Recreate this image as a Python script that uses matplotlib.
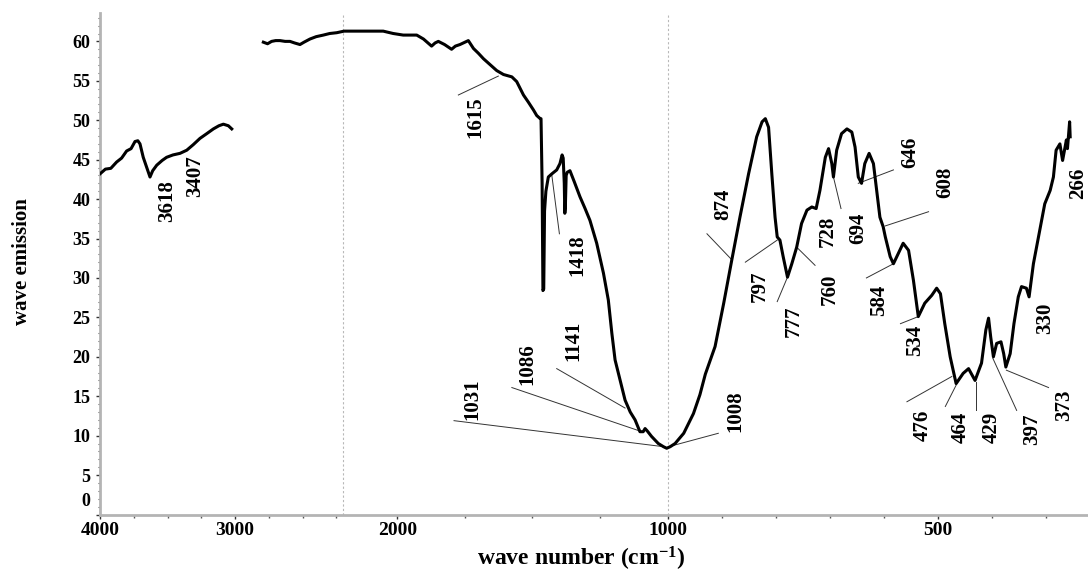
"""IR スペクトル (4000-222 cm-1, 2200 と 1000 で目盛り倍率が変わる折れ線軸)。"""
import numpy as np
import matplotlib
matplotlib.use("Agg")
import matplotlib.pyplot as plt
from matplotlib.ticker import FixedLocator, MultipleLocator, FuncFormatter

plt.rcParams["font.family"] = ["Liberation Serif", "DejaVu Serif"]
plt.rcParams["font.weight"] = "bold"
plt.rcParams["mathtext.default"] = "regular"

# ---- data ------------------------------------------------------------------
# 高波数側 (4000-3025 cm-1)
wn_hi = [4000, 3960, 3920, 3877, 3840, 3803, 3770, 3741, 3720, 3704, 3680,
         3650, 3630, 3610, 3580, 3540, 3507, 3460, 3408, 3358, 3310, 3260,
         3210, 3161, 3120, 3087, 3050, 3025]
em_hi = [43.2, 43.8, 43.9, 44.7, 45.2, 46.1, 46.4, 47.3, 47.4, 47.0, 45.3,
         43.8, 42.8, 43.6, 44.3, 44.9, 45.3, 45.6, 45.8, 46.2, 46.9, 47.7,
         48.3, 48.9, 49.3, 49.5, 49.3, 48.9]

# 低波数側 (2791-255 cm-1)
wn_lo = [2791, 2760, 2730, 2700, 2668, 2630, 2594, 2560, 2520, 2490, 2446,
         2400, 2347, 2300, 2248, 2197, 2150, 2100, 2052, 2015, 1978, 1950,
         1928, 1903, 1873, 1860, 1848, 1825, 1799, 1785, 1768, 1737, 1718,
         1700, 1681, 1655, 1632, 1607, 1576, 1558, 1545, 1533, 1515, 1496,
         1484, 1471, 1468, 1464, 1461, 1458, 1455, 1450, 1441, 1428, 1410,
         1398, 1390, 1386, 1382, 1380, 1378, 1375, 1371, 1361, 1345, 1324,
         1305, 1287, 1262, 1237, 1219, 1206, 1194, 1175, 1157, 1138, 1120,
         1102, 1090, 1083, 1075, 1059, 1034, 1015, 1003, 995, 986, 970,
         952, 940, 930, 912, 896, 881, 866, 850, 835, 825, 819,
         813, 807, 801, 797, 792, 786, 778, 770, 761, 752, 742,
         733, 725, 718, 708, 702, 696, 693, 687, 678, 668, 659,
         653, 647, 641, 635, 627, 619, 613, 607, 601, 597, 588,
         582, 573, 564, 554, 545, 536, 524, 511, 502, 495, 487,
         477, 466, 453, 443, 431, 419, 411, 406, 402, 397, 391,
         383, 378, 374, 366, 359, 351, 345, 336, 331, 323, 311,
         302, 292, 286, 281, 274, 269, 262, 260, 256, 255]
em_lo = [59.9, 59.7, 60.0, 60.1, 60.1, 60.0, 60.0, 59.8, 59.6, 59.9, 60.3,
         60.6, 60.8, 61.0, 61.1, 61.3, 61.3, 61.3, 61.3, 61.0, 60.8, 60.8,
         60.8, 60.3, 59.4, 59.8, 60.0, 59.6, 59.0, 59.4, 59.6, 60.1, 59.1,
         58.5, 57.8, 57.0, 56.3, 55.8, 55.5, 54.9, 54.0, 53.2, 52.3, 51.3,
         50.6, 50.2, 50.2, 42.0, 28.4, 28.6, 38.5, 41.0, 42.8, 43.2, 43.7,
         44.5, 45.6, 45.2, 42.0, 38.2, 39.0, 43.0, 43.4, 43.6, 42.2, 40.3,
         38.8, 37.3, 34.4, 30.6, 27.2, 23.0, 19.6, 17.0, 14.5, 13.0, 12.0,
         10.5, 10.5, 10.9, 10.6, 9.9, 9.0, 8.6, 8.4, 8.6, 9.0, 10.3,
         12.8, 15.2, 17.8, 21.3, 26.8, 32.3, 37.7, 43.2, 47.9, 49.8, 50.2,
         49.1, 43.2, 37.7, 35.2, 34.8, 32.7, 30.1, 31.8, 33.9, 36.9, 38.6,
         39.0, 38.8, 41.1, 45.3, 46.4, 44.5, 42.8, 46.2, 48.3, 48.9, 48.5,
         46.6, 42.8, 42.0, 44.5, 45.8, 44.5, 41.1, 37.7, 36.5, 35.2, 32.7,
         31.8, 33.1, 34.4, 33.5, 29.7, 25.1, 26.8, 27.8, 28.7, 28.0, 24.2,
         20.0, 16.6, 17.9, 18.5, 17.0, 19.2, 23.4, 24.9, 22.5, 20.0, 21.7,
         21.9, 20.4, 18.7, 20.4, 24.2, 27.6, 28.9, 28.7, 27.6, 31.8, 36.1,
         39.4, 41.1, 42.8, 46.2, 47.0, 44.9, 47.5, 46.4, 49.8, 47.9]

peak_labels = ["3618", "3407", "1615", "1418", "874", "797", "777", "760",
               "728", "694", "646", "608", "584", "534", "476", "464", "429",
               "397", "373", "330", "266", "1141", "1086", "1031", "1008"]

# ---- layout of the annotations (label centre, leader line) ------------------
label_xy = [(3504, 39.7), (3297, 42.9), (1712, 50.4), (1335, 32.9),
            (897, 39.4), (829, 29.0), (767, 24.5), (699, 28.6), (703, 35.9),
            (647, 36.3), (551, 45.9), (486, 42.1), (608, 27.2), (542, 22.1),
            (527, 11.3), (458, 11.1), (400, 11.0), (326, 10.8), (267, 13.8),
            (301, 24.9), (240, 42.0), (1350, 22.0), (1520, 19.1),
            (1723, 14.6), (875, 13.1)]
leaders = [None, None,
           ((1774, 53.2), (1626, 55.6)),
           ((1428, 43.0), (1400, 35.6)),
           ((927, 35.6), (881, 32.3)),
           ((856, 32.0), (797, 34.8)),
           ((797, 27.0), (778, 30.1)),
           ((761, 33.9), (727, 31.6)),
           None,
           ((693, 42.8), (679, 38.8)),
           ((647, 42.0), (582, 43.7)),
           ((597, 36.6), (517, 38.4)),
           ((632, 30.0), (582, 31.8)),
           ((569, 24.2), (536, 25.1)),
           ((557, 14.3), (474, 17.5)),
           ((486, 13.7), (466, 16.4)),
           ((429, 16.8), (429, 13.3)),
           ((398, 19.8), (354, 13.2)),
           ((373, 18.3), (295, 16.1)),
           None, None,
           ((1410, 18.5), (1157, 13.5)),
           ((1576, 16.1), (1095, 10.5)),
           ((1790, 11.9), (1015, 8.6)),
           ((998, 8.6), (906, 10.3))]


# 折れ線軸: 4000-2200 を 1 倍, 2200-1000 を 2 倍, 1000 以下を 4 倍に伸ばす
# (単調増加な変換にして, xlim を 4000 -> 222 の逆向きに取る)
def fwd(w):
    w = np.asarray(w, dtype=float)
    u = np.where(w >= 2200, 4000 - w,
                 np.where(w >= 1000, 1800 + 2 * (2200 - w),
                          4200 + 4 * (1000 - w)))
    return -u


def inv(v):
    u = -np.asarray(v, dtype=float)
    return np.where(u <= 1800, 4000 - u,
                    np.where(u <= 4200, 2200 - (u - 1800) / 2,
                             1000 - (u - 4200) / 4))


fig = plt.figure(figsize=(10.88, 5.72), dpi=100)
ax = fig.add_axes([100 / 1088, 1 - 514.5 / 572, 988 / 1088, 501.5 / 572])
ax.set_xscale("function", functions=(fwd, inv))
ax.set_xlim(4000, 222)
ax.set_ylim(0, 63.6)

for x in (2200, 1000):
    ax.axvline(x, color="#b8b8b8", lw=0.8, ls=(0, (2, 2)), zorder=1)

ax.plot(wn_hi, em_hi, color="black", lw=2.2, zorder=3)
ax.plot(wn_lo, em_lo, color="black", lw=2.2, zorder=3)

for txt, (lx, ly), ld in zip(peak_labels, label_xy, leaders):
    ax.text(lx, ly, txt, rotation=90, ha="center", va="center",
            fontsize=15, fontweight="bold")
    if ld is not None:
        (x1, y1), (x2, y2) = ld
        ax.plot([x1, x2], [y1, y2], color="#333333", lw=0.7, zorder=2)

ax.xaxis.set_major_locator(FixedLocator([4000, 3000, 2000, 1000, 500]))
ax.xaxis.set_minor_locator(FixedLocator(
    [3750, 3500, 3250, 2750, 2500, 2250, 1750, 1500, 1250,
     900, 800, 700, 600, 400, 300]))
ax.xaxis.set_major_formatter(FuncFormatter(lambda v, p: f"{v:.0f}"))
ax.yaxis.set_major_locator(MultipleLocator(5))
ax.yaxis.set_minor_locator(MultipleLocator(1))
ax.yaxis.set_major_formatter(FuncFormatter(lambda v, p: "" if v == 0 else f"{v:.0f}"))

ax.tick_params(axis="x", which="major", length=3, width=1, color="#333333",
               labelsize=14, pad=2.5)
ax.tick_params(axis="x", which="minor", length=2, width=1, color="#555555")
ax.tick_params(axis="y", which="major", length=3, width=1, color="#333333",
               labelsize=13, pad=4)
ax.tick_params(axis="y", which="minor", length=1.5, width=0.8, color="#555555")
ax.annotate("0", xy=(0, 0), xycoords=("axes fraction", "data"),
            xytext=(-7.2, 9), textcoords="offset points",
            ha="right", va="center", fontsize=13, fontweight="bold")

for s in ("top", "right"):
    ax.spines[s].set_visible(False)
for s in ("left", "bottom"):
    ax.spines[s].set_color("#b4b4b4")
    ax.spines[s].set_linewidth(2)

fig.text(22 / 1088, 1 - 262 / 572, "wave emission", rotation=90,
         ha="center", va="center", fontsize=15, fontweight="bold")
fig.text(581 / 1088, 1 - 559 / 572, "wave number (cm$^{-1}$)",
         ha="center", va="center", fontsize=17, fontweight="bold")

fig.savefig("out.png", dpi=100)
